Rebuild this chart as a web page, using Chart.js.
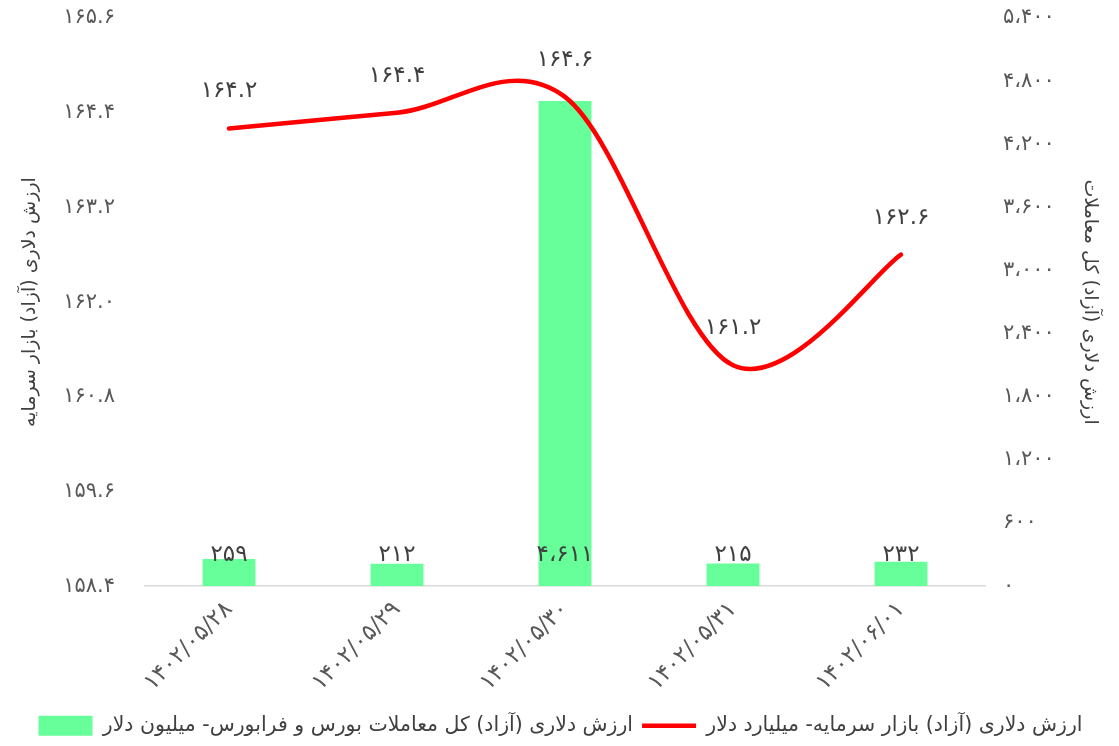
<!DOCTYPE html>
<html>
<head>
<meta charset="utf-8">
<script src="https://cdn.jsdelivr.net/npm/chart.js@4.4.0/dist/chart.umd.min.js"></script>
<style>
  html, body { margin: 0; padding: 0; background: #fff; }
  #wrap { width: 1119px; height: 746px; }
</style>
</head>
<body>
<div id="wrap"><canvas id="chart"></canvas></div>
<script>
const dates = ['1402/05/28', '1402/05/29', '1402/05/30', '1402/05/31', '1402/06/01'];
const marketValue = [164.2, 164.4, 164.6, 161.2, 162.6];
const tradeValue = [259, 212, 4611, 215, 232];
const leftTicks = [158.4, 159.6, 160.8, 162.0, 163.2, 164.4, 165.6];
const rightTicks = [0, 600, 1200, 1800, 2400, 3000, 3600, 4200, 4800, 5400];

const lineLabel = 'ارزش دلاری (آزاد) بازار سرمایه- میلیارد دلار';
const barLabel = 'ارزش دلاری (آزاد) کل معاملات بورس و فرابورس- میلیون دلار';

const FONT = "'DejaVu Sans', sans-serif";

function fa(s) {
    return String(s).replace(/\d/g, d => '۰۱۲۳۴۵۶۷۸۹'[d]);
}
function faThousands(n) {
    return fa(n.toLocaleString('en-US')).replace(/,/g, '،');
}

// excel style smoothing (control points at 1/6 of neighbour distance)
const excelSmooth = {
    id: 'excelSmooth',
    beforeDatasetDraw(chart, args) {
        const meta = args.meta;
        if (meta.type !== 'line') return;
        const pts = meta.data;
        pts.forEach((p, i) => {
            const prev = pts[i - 1] || p;
            const next = pts[i + 1] || p;
            const dx = (next.x - prev.x) / 6;
            const dy = (next.y - prev.y) / 6;
            p.cp1x = p.x - dx; p.cp1y = p.y - dy;
            p.cp2x = p.x + dx; p.cp2y = p.y + dy;
        });
        meta.dataset._pointsUpdated = true;
    }
};

// value labels: line labels above points, bar labels near the base
const valueLabels = {
    id: 'valueLabels',
    afterDatasetsDraw(chart) {
        const ctx = chart.ctx;
        ctx.save();
        ctx.font = '23px ' + FONT;
        ctx.fillStyle = '#404040';
        ctx.textAlign = 'center';
        ctx.textBaseline = 'middle';
        const base = chart.scales.x.top;
        chart.getDatasetMeta(1).data.forEach((bar, i) => {
            ctx.fillText(faThousands(tradeValue[i]), bar.x, base - 31);
        });
        chart.getDatasetMeta(0).data.forEach((pt, i) => {
            ctx.fillText(fa(marketValue[i].toFixed(1)), pt.x, pt.y - 37);
        });
        ctx.restore();
    }
};

function yFit(width) {
    return scale => {
        scale.width = width;
        scale.paddingTop = 18;
        scale.paddingBottom = 0;
    };
}

new Chart(document.getElementById('chart'), {
    data: {
        labels: dates.map(fa),
        datasets: [
            {
                type: 'line',
                label: lineLabel,
                data: marketValue,
                yAxisID: 'yLeft',
                borderColor: '#ff0000',
                backgroundColor: '#ff0000',
                borderWidth: 4.5,
                borderCapStyle: 'round',
                tension: 0.4,
                pointRadius: 0,
                order: 0
            },
            {
                type: 'bar',
                label: barLabel,
                data: tradeValue,
                yAxisID: 'yRight',
                backgroundColor: '#66ff99',
                borderWidth: 0,
                barPercentage: 0.315,
                categoryPercentage: 1,
                order: 1
            }
        ]
    },
    options: {
        responsive: true,
        maintainAspectRatio: false,
        animation: false,
        layout: { padding: { top: 0, left: 10, right: 8, bottom: 0 } },
        scales: {
            x: {
                afterFit(scale) { scale.paddingLeft = 0; scale.paddingRight = 0; },
                grid: { display: false, drawTicks: false },
                border: { color: '#d9d9d9', width: 1.5 },
                ticks: {
                    maxRotation: 45,
                    minRotation: 45,
                    padding: 10,
                    color: '#595959',
                    font: { family: FONT, size: 23 }
                }
            },
            yLeft: {
                position: 'left',
                min: 158.4,
                max: 165.6,
                afterBuildTicks(axis) { axis.ticks = leftTicks.map(v => ({ value: v })); },
                afterFit: yFit(135),
                grid: { display: false, drawTicks: false },
                border: { display: false },
                ticks: {
                    padding: 30,
                    color: '#595959',
                    font: { family: FONT, size: 21 },
                    callback: v => fa(v.toFixed(1))
                },
                title: {
                    display: true,
                    text: 'ارزش دلاری (آزاد) بازار سرمایه',
                    color: '#404040',
                    padding: { top: 9, bottom: 10 },
                    font: { family: FONT, size: 19 }
                }
            },
            yRight: {
                position: 'right',
                min: 0,
                max: 5400,
                afterBuildTicks(axis) { axis.ticks = rightTicks.map(v => ({ value: v })); },
                afterFit: yFit(126),
                grid: { display: false, drawTicks: false },
                border: { display: false },
                ticks: {
                    padding: 18,
                    color: '#595959',
                    font: { family: FONT, size: 21 },
                    callback: v => faThousands(v)
                },
                title: {
                    display: true,
                    text: 'ارزش دلاری (آزاد) کل معاملات',
                    color: '#404040',
                    padding: { top: 10, bottom: 10 },
                    font: { family: FONT, size: 19 }
                }
            }
        },
        plugins: {
            tooltip: { enabled: false },
            legend: {
                position: 'bottom',
                labels: {
                    usePointStyle: true,
                    pointStyleWidth: 54,
                    boxHeight: 20,
                    padding: 9,
                    color: '#404040',
                    font: { family: FONT, size: 20.5 },
                    generateLabels(chart) {
                        const items = Chart.defaults.plugins.legend.labels.generateLabels(chart);
                        items.forEach(it => {
                            const ds = chart.data.datasets[it.datasetIndex];
                            it.pointStyle = ds.type === 'line' ? 'line' : 'rect';
                        });
                        return items.reverse();
                    }
                }
            }
        }
    },
    plugins: [excelSmooth, valueLabels]
});
</script>
</body>
</html>
